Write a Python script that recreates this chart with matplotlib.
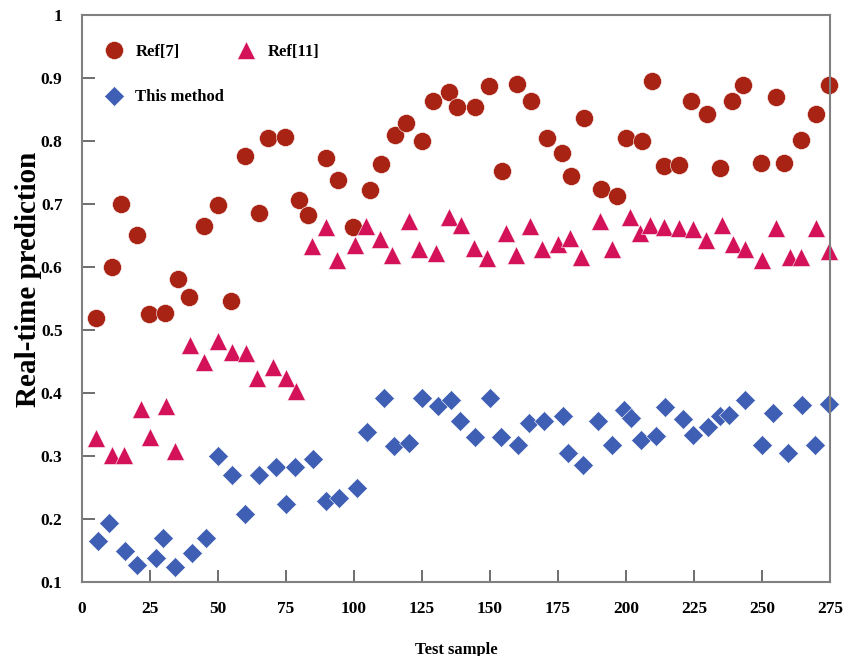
import matplotlib
matplotlib.use("Agg")
import matplotlib.pyplot as plt

# Ref[7] (circles)
ref7_x = [5.1, 11, 14.3, 20.2, 24.6, 30.5, 35.3, 39.3, 44.9, 50, 54.8, 60, 65, 68.4,
          74.6, 79.8, 83, 89.7, 94.1, 99.6, 106, 110, 115, 119, 125, 129, 135, 138,
          144.5, 149.6, 154.4, 160, 165, 171, 176.5, 179.8, 184.6, 190.8, 196.7, 200,
          206, 209.6, 214, 219.5, 224, 229.8, 234.6, 239, 243, 249.6, 255, 258, 264.3,
          269.9, 274.6]
ref7_y = [0.519, 0.600, 0.700, 0.651, 0.525, 0.527, 0.581, 0.552, 0.665, 0.698, 0.546,
          0.776, 0.686, 0.805, 0.806, 0.706, 0.683, 0.773, 0.738, 0.663, 0.722, 0.763,
          0.810, 0.829, 0.800, 0.863, 0.878, 0.854, 0.854, 0.887, 0.752, 0.890, 0.863,
          0.805, 0.781, 0.744, 0.837, 0.724, 0.713, 0.805, 0.800, 0.895, 0.760, 0.762,
          0.863, 0.843, 0.757, 0.863, 0.889, 0.765, 0.870, 0.765, 0.802, 0.843, 0.889]

# Ref[11] (triangles)
ref11_x = [5.1, 11, 15.4, 21.7, 25, 30.9, 34.2, 39.7, 44.9, 50, 55.1, 60.3, 64.3, 70.2,
           75, 78.7, 84.6, 89.7, 93.8, 100.4, 104.4, 109.6, 114, 120.2, 124, 130, 135,
           139.3, 144, 149, 156, 159.6, 164.7, 169, 175, 179.4, 183.5, 190.4, 195,
           201.5, 205, 208.8, 214, 219.5, 224.6, 229.4, 235.3, 239.3, 243.8, 250, 255,
           260.3, 264.3, 270, 274.6]
ref11_y = [0.329, 0.302, 0.302, 0.375, 0.330, 0.379, 0.308, 0.476, 0.449, 0.482, 0.465,
           0.463, 0.424, 0.441, 0.424, 0.403, 0.633, 0.663, 0.611, 0.635, 0.665, 0.644,
           0.619, 0.673, 0.629, 0.622, 0.679, 0.667, 0.630, 0.614, 0.654, 0.619, 0.665,
           0.629, 0.637, 0.646, 0.616, 0.673, 0.629, 0.679, 0.654, 0.667, 0.663, 0.662,
           0.660, 0.643, 0.667, 0.637, 0.629, 0.611, 0.662, 0.616, 0.616, 0.662, 0.625]

# This method (diamonds)
our_x = [5.9, 9.9, 15.8, 20.2, 27.2, 29.8, 34.2, 40.4, 45.6, 50, 55.1, 60, 65, 71.3, 75,
         78.3, 85, 89.7, 94.5, 101, 104.8, 111, 114.7, 120.2, 125, 130.9, 135.7, 139,
         144.5, 150, 154, 160.3, 164.3, 170, 176.8, 178.7, 184.2, 189.7, 195, 199.3,
         201.8, 205.5, 211, 214.3, 220.9, 224.6, 230.1, 234.6, 238, 243.8, 250, 254,
         259.6, 264.7, 269.5, 274.6]
our_y = [0.165, 0.194, 0.149, 0.127, 0.138, 0.170, 0.124, 0.146, 0.170, 0.300, 0.270,
         0.208, 0.270, 0.283, 0.224, 0.283, 0.295, 0.229, 0.233, 0.249, 0.338, 0.392,
         0.316, 0.320, 0.392, 0.379, 0.389, 0.356, 0.330, 0.392, 0.330, 0.317, 0.352,
         0.356, 0.363, 0.305, 0.286, 0.356, 0.317, 0.373, 0.360, 0.325, 0.332, 0.378,
         0.359, 0.333, 0.346, 0.363, 0.365, 0.389, 0.317, 0.368, 0.305, 0.381, 0.317,
         0.383]

xticks = [0, 25, 50, 75, 100, 125, 150, 175, 200, 225, 250, 275]
yticks = [0.1, 0.2, 0.3, 0.4, 0.5, 0.6, 0.7, 0.8, 0.9, 1]
ytick_labels = ["0.1", "0.2", "0.3", "0.4", "0.5", "0.6", "0.7", "0.8", "0.9", "1"]

plt.rcParams["font.family"] = ["Liberation Serif", "DejaVu Serif"]
plt.rcParams["font.weight"] = "bold"

fig = plt.figure(figsize=(8.43, 6.56), dpi=100)
ax = fig.add_axes([0.0973, 0.1128, 0.8873, 0.8643])

h7, = ax.plot(ref7_x, ref7_y, "o", color="#A82314", markersize=13,
              markeredgecolor="white", markeredgewidth=0.4, label="Ref[7]", clip_on=False)
h11, = ax.plot(ref11_x, ref11_y, "^", color="#D3125A", markersize=13,
               markeredgecolor="white", markeredgewidth=0.4, label="Ref[11]", clip_on=False)
hd, = ax.plot(our_x, our_y, "D", color="#3E5FB4", markersize=10,
              markeredgecolor="white", markeredgewidth=0.4, label="This method", clip_on=False)

ax.set_xlim(0, 275)
ax.set_ylim(0.1, 1)
ax.set_xticks(xticks)
ax.set_xticklabels([str(t) for t in xticks], fontsize=12.5, fontweight="bold")
ax.set_yticks(yticks)
ax.set_yticklabels(ytick_labels, fontsize=12.5, fontweight="bold")
ax.tick_params(direction="in", length=9, width=1.2, color="#555555",
               top=False, right=False)
ax.tick_params(axis="x", pad=14)
ax.tick_params(axis="y", pad=14)

for s in ax.spines.values():
    s.set_color("#808080")
    s.set_linewidth(1.5)

ax.set_xlabel("Test sample", fontsize=12, fontweight="bold")
ax.xaxis.set_label_coords(0.5, -0.105)
ax.set_ylabel("Real-time prediction", fontsize=21, fontweight="bold")
ax.yaxis.set_label_coords(-0.054, 0.533)

ax.legend(handles=[h7, hd, h11], ncol=2, loc="upper left", frameon=False,
          fontsize=12, bbox_to_anchor=(0.0, 0.975), labelspacing=1.75,
          columnspacing=0.3, handletextpad=0.3, markerscale=1.0)

fig.savefig("out.png", dpi=100)
